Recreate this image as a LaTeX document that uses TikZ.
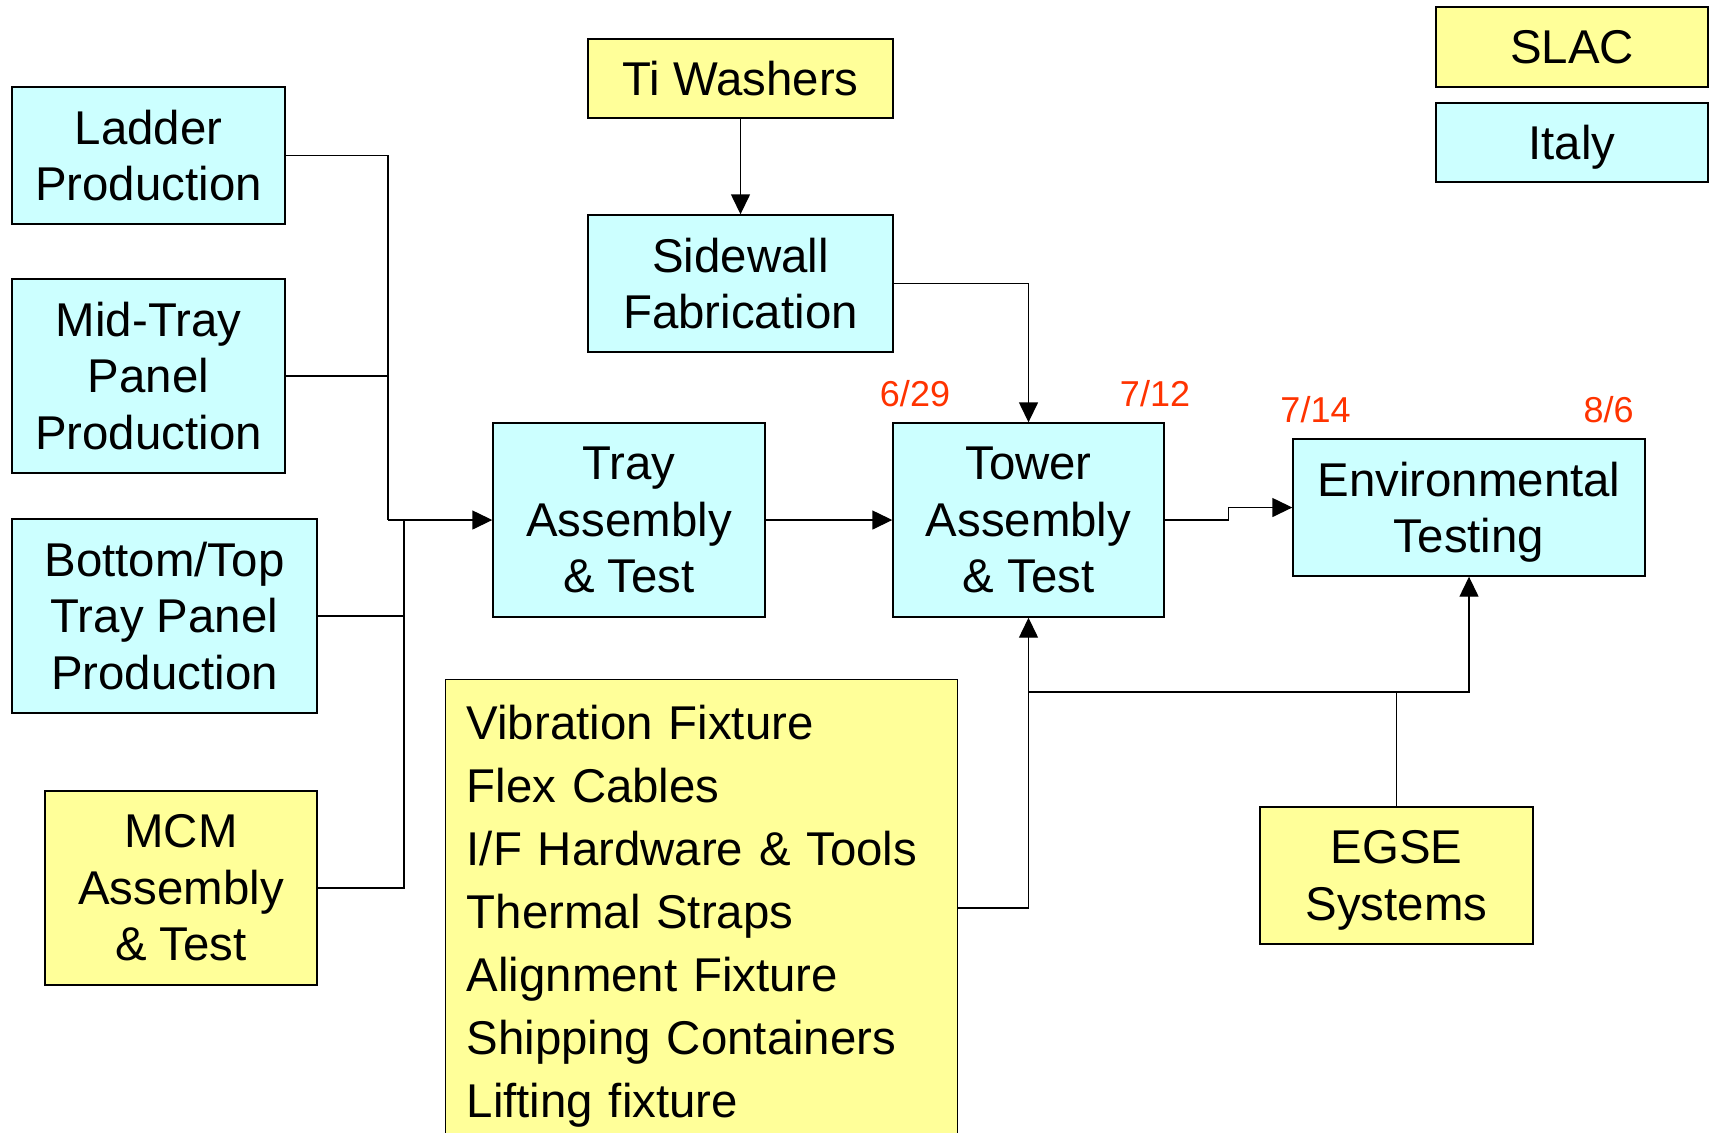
\documentclass[tikz,border=0pt]{standalone}
\usepackage{fontspec}
\setmainfont{Liberation Sans}
\usepackage{xcolor}
\usetikzlibrary{positioning,calc,arrows.meta}

\definecolor{italycyan}{HTML}{CCFFFF}
\definecolor{slacyellow}{HTML}{FFFF99}
\definecolor{datered}{HTML}{FF3300}

\begin{document}
\begin{tikzpicture}[x=0.5pt, y=-0.5pt,
        box/.style={draw, line width=0.7pt, inner sep=0pt, align=center,
            font=\fontsize{23.7pt}{28.3pt}\selectfont},
        italy/.style={box, fill=italycyan},
        slac/.style={box, fill=slacyellow},
        link/.style={line width=0.7pt},
        arr/.style={link, -{Triangle[length=10pt, width=9.5pt]}},
        datelbl/.style={text=datered, inner sep=0pt, anchor=base,
            font=\fontsize{18pt}{20pt}\selectfont}]
        \useasboundingbox (0,0) rectangle (1712,1132);
        \clip (0,0) rectangle (1712,1132);

        % Legend
        \node[slac, minimum width=136pt, minimum height=40pt] (slackey) at (1572,47) {SLAC};
        \node[italy, minimum width=136pt, minimum height=39.5pt, text depth=0pt] (italykey) at (1572,142.5) {Italy};

        % Parts coming in on the left
        \node[italy, minimum width=136.5pt, minimum height=68.5pt] (ladder) at (148.5,155.5) {Ladder\\Production};
        \node[italy, minimum width=136.5pt, minimum height=97pt] (midtray) at (148.5,376) {Mid-Tray\\Panel\\Production};
        \node[italy, minimum width=152.5pt, minimum height=97pt] (bottop) at (164.5,616) {Bottom/Top\\Tray Panel\\Production};
        \node[slac, minimum width=136pt, minimum height=97pt] (mcm) at (181,888) {MCM\\Assembly\\\& Test};

        % Sidewalls
        \node[slac, minimum width=152.5pt, minimum height=39.5pt] (washers) at (740.5,78.5) {Ti Washers};
        \node[italy, minimum width=152.5pt, minimum height=68.5pt] (sidewall) at (740.5,283.5) {Sidewall\\Fabrication};

        % Main line
        \node[italy, minimum width=136pt, minimum height=97pt] (tray) at (629,520) {Tray\\Assembly\\\& Test};
        \node[italy, minimum width=135.5pt, minimum height=97pt] (tower) at (1028.5,520) {Tower\\Assembly\\\& Test};
        \node[italy, minimum width=176pt, minimum height=68.5pt, text depth=0pt] (envtest) at (1469,507.5) {Environmental\\Testing};
        \node[slac, minimum width=136.5pt, minimum height=68.5pt, text depth=0pt] (egse) at (1396.5,875.5) {EGSE\\Systems};

        % Fixtures list (runs off the bottom)
        \node[slac, anchor=north west, align=left, text width=234.75pt,
            inner xsep=10.75pt, inner ysep=12.5pt,
            font=\fontsize{23.7pt}{31.5pt}\selectfont] (fixtures) at (444.5,679)
            {Vibration Fixture\\Flex Cables\\I/F Hardware \& Tools\\Thermal Straps\\Alignment Fixture\\Shipping Containers\\Lifting fixture};

        % Dates
        \node[datelbl] (d629) at (915,406) {6/29};
        \node[datelbl] (d712) at (1155,406) {7/12};
        \node[datelbl] (d714) at (1315.5,422) {7/14};
        \node[datelbl] (d86) at (1608.5,422) {8/6};

        % Buses
        \coordinate (busa) at (388,0);
        \coordinate (busb) at (404,0);
        \coordinate (kink) at (1228.5,0);
        \coordinate (egsebus) at (0,692);

        \draw[link] (ladder.east) -| (busa |- tray.west);
        \draw[link] (midtray.east) -- (midtray.east -| busa);
        \draw[link] (mcm.east) -| (busb |- tray.west);
        \draw[link] (bottop.east) -- (bottop.east -| busb);
        \draw[arr] (busa |- tray.west) -- (tray.west);

        \draw[arr] (washers.south) -- (sidewall.north);
        \draw[arr] (sidewall.east) -| (tower.north);
        \draw[arr] (tray.east) -- (tower.west);
        \draw[arr] (tower.east) -| (kink |- envtest.west) -- (envtest.west);
        \draw[arr] (fixtures.north east) ++(0,229) -| (tower.south);

        \draw[arr] (egse.north) |- (egsebus -| envtest.south) -- (envtest.south);
        \draw[link] (egse.north |- egsebus) -- (egsebus -| tower.south);
    \end{tikzpicture}
\end{document}
